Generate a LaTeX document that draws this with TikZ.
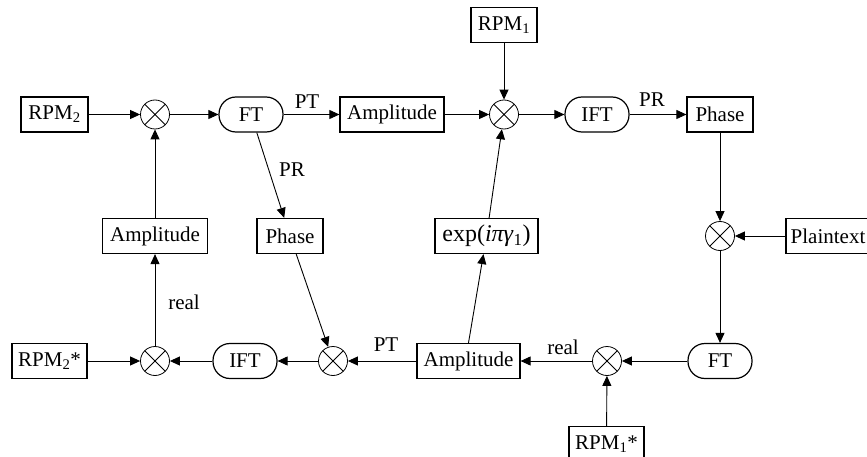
\documentclass[tikz,border=0pt]{standalone}
\usepackage{fontspec}
\setmainfont{Liberation Serif}
\usetikzlibrary{arrows.meta}
\begin{document}
\begin{tikzpicture}[x=1pt,y=-1pt,
  font=\fontsize{21}{25}\selectfont,
  box/.style={draw,line width=1.2pt,minimum height=35pt,inner xsep=4pt,inner ysep=2pt},
  rbox/.style={draw,line width=1.2pt,minimum height=35pt,minimum width=64pt,rounded corners=17pt},
  mult/.style={draw,circle,line width=0.8pt,minimum size=29pt,inner sep=0pt,
    path picture={\draw[line width=0.8pt] (path picture bounding box.north west) -- (path picture bounding box.south east)
      (path picture bounding box.north east) -- (path picture bounding box.south west);}},
  arr/.style={line width=0.9pt,-{Triangle[length=10pt,width=9pt]}},
  lab/.style={inner sep=0pt}]
\useasboundingbox (0,0) rectangle (867,457);
% top row
\node[box,minimum width=67pt] (rpm2) at (54.5,114.5) {RPM\textsubscript{2}};
\node[mult] (m1) at (155,114.5) {};
\node[rbox] (ft) at (251,114.5) {FT};
\node[box,minimum width=104pt] (amp1) at (392,114.5) {Amplitude};
\node[mult] (m2) at (504,114.5) {};
\node[box,minimum width=66pt] (rpm1) at (504,25) {RPM\textsubscript{1}};
\node[rbox] (ift1) at (597,114.5) {IFT};
\node[box,minimum width=66pt] (ph2) at (720,114.5) {Phase};
% middle row
\node[box,minimum width=105pt] (ampL) at (155,236) {Amplitude};
\node[box,minimum width=66pt] (ph1) at (290,236) {Phase};
\node[box,minimum width=103pt,font=\fontsize{24}{27}\selectfont] (exp) at (486.5,236) {exp(\textit{iπγ}\textsubscript{1})};
\node[mult] (m3) at (720,236) {};
\node[box,minimum width=84pt,inner xsep=3pt] (plain) at (828,236) {Plaintext};
% bottom row
\node[box,minimum width=75pt] (rpm2s) at (49.5,361) {RPM\textsubscript{2}*};
\node[mult] (m6) at (155,361) {};
\node[rbox] (ift2) at (245,361) {IFT};
\node[mult] (m5) at (333,361) {};
\node[box,minimum width=103pt] (amp2) at (468.5,361) {Amplitude};
\node[mult] (m4) at (607,361) {};
\node[rbox] (ft2) at (720,361) {FT};
\node[box,minimum width=75pt] (rpm1s) at (606.5,444) {RPM\textsubscript{1}*};
% connectors
\draw[arr] (rpm2) -- (m1);
\draw[arr] (m1) -- (ft);
\draw[arr] (ft) -- (amp1);
\draw[arr] (amp1) -- (m2);
\draw[arr] (rpm1) -- (m2);
\draw[arr] (m2) -- (ift1);
\draw[arr] (ift1) -- (ph2);
\draw[arr] (ph2) -- (m3);
\draw[arr] (plain) -- (m3);
\draw[arr] (m3) -- (ft2);
\draw[arr] (ft2) -- (m4);
\draw[arr] (rpm1s) -- (m4);
\draw[arr] (m4) -- (amp2);
\draw[arr] (amp2.north) -- (exp);
\draw[arr] (exp) -- (m2);
\draw[arr] (amp2) -- (m5);
\draw[arr] (ft) -- (ph1);
\draw[arr] (ph1) -- (m5);
\draw[arr] (m5) -- (ift2);
\draw[arr] (ift2) -- (m6);
\draw[arr] (rpm2s) -- (m6);
\draw[arr] (m6) -- (ampL);
\draw[arr] (ampL) -- (m1);
% labels
\node[lab] (lpt1) at (307,102) {PT};
\node[lab] (lpr1) at (652,100) {PR};
\node[lab] (lpr2) at (292,170) {PR};
\node[lab] (lre1) at (184,302) {real};
\node[lab] (lpt2) at (386,345) {PT};
\node[lab] (lre2) at (563,347) {real};
\end{tikzpicture}
\end{document}
